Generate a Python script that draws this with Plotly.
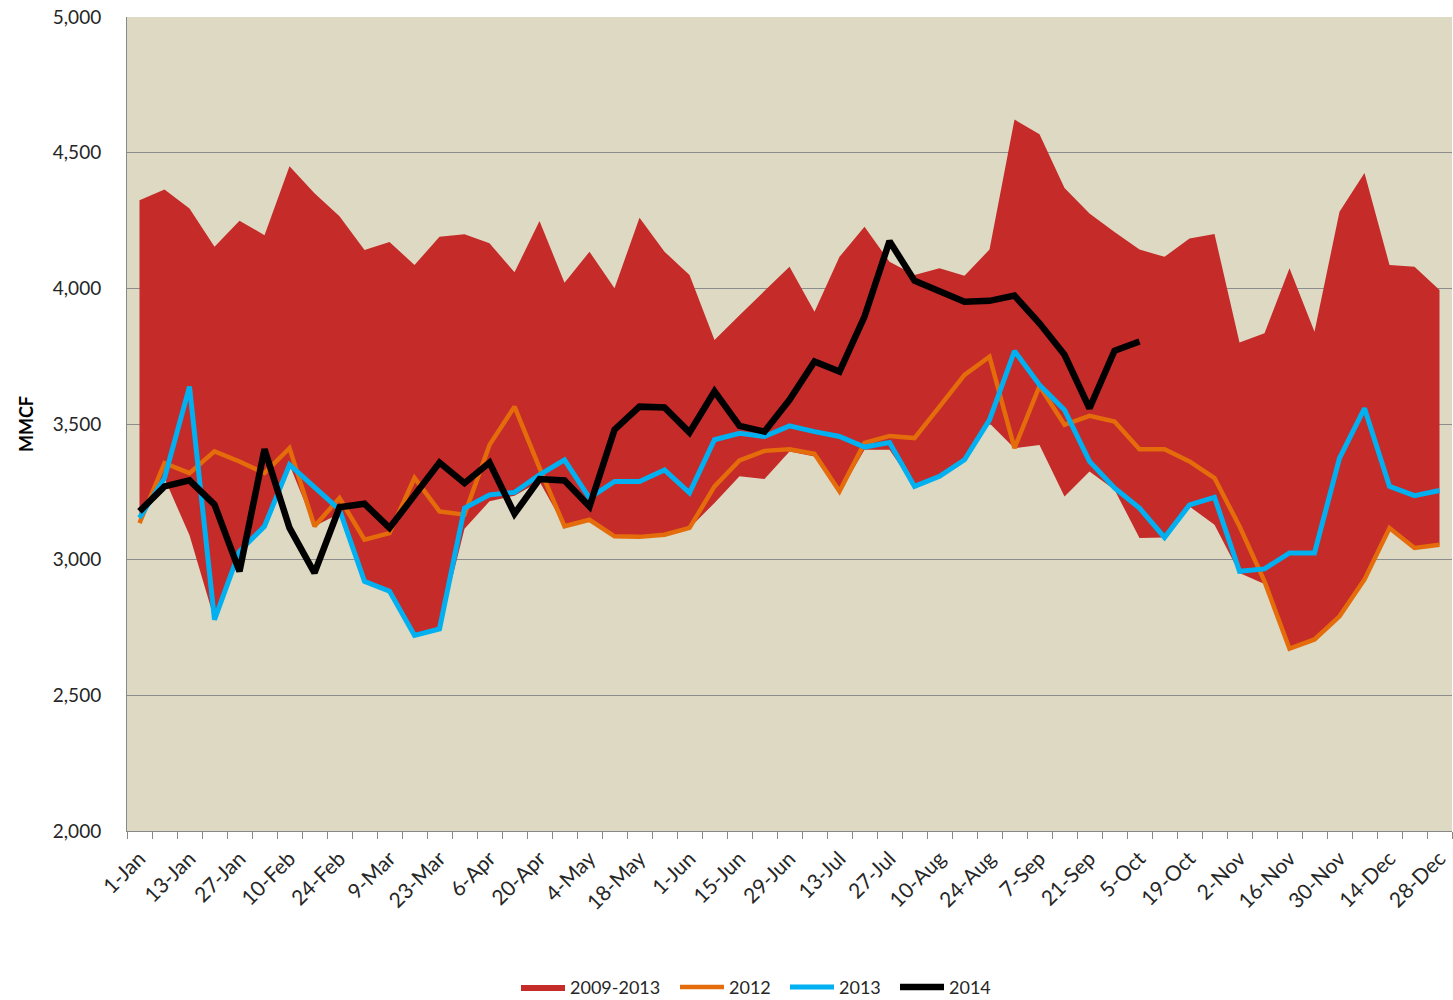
import plotly.graph_objects as go

# Weekly categories
weeks = ["1-Jan", "6-Jan", "13-Jan", "20-Jan", "27-Jan", "3-Feb", "10-Feb", "17-Feb", "24-Feb",
         "2-Mar", "9-Mar", "16-Mar", "23-Mar", "30-Mar", "6-Apr", "13-Apr", "20-Apr", "27-Apr",
         "4-May", "11-May", "18-May", "25-May", "1-Jun", "8-Jun", "15-Jun", "22-Jun", "29-Jun",
         "6-Jul", "13-Jul", "20-Jul", "27-Jul", "3-Aug", "10-Aug", "17-Aug", "24-Aug", "31-Aug",
         "7-Sep", "14-Sep", "21-Sep", "28-Sep", "5-Oct", "12-Oct", "19-Oct", "26-Oct",
         "2-Nov", "9-Nov", "16-Nov", "23-Nov", "30-Nov", "7-Dec", "14-Dec", "21-Dec", "28-Dec"]

# Tick labels: every other week
tick_labels = [w if i % 2 == 0 else "" for i, w in enumerate(weeks)]

# 2009-2013 range (max / min)
range_max = [4325, 4364, 4294, 4153, 4249, 4196, 4450, 4350, 4266, 4141,
             4171, 4086, 4190, 4199, 4166, 4059, 4248, 4021, 4135, 4000,
             4260, 4135, 4049, 3810, 3901, 3990, 4080, 3914, 4116, 4227,
             4098, 4049, 4074, 4046, 4143, 4622, 4568, 4370, 4276, 4208,
             4143, 4116, 4184, 4200, 3800, 3834, 4074, 3840, 4282, 4425,
             4086, 4080, 3994]
range_min = [3135, 3300, 3090, 2779, 3031, 3123, 3350, 3123, 3170, 2920,
             2884, 2721, 2745, 3114, 3215, 3236, 3288, 3123, 3147, 3086,
             3082, 3092, 3117, 3209, 3307, 3297, 3399, 3380, 3246, 3405,
             3405, 3270, 3307, 3362, 3503, 3411, 3423, 3233, 3325, 3258,
             3080, 3082, 3196, 3129, 2951, 2910, 2672, 2706, 2791, 2927,
             3117, 3043, 3055]

s2012 = [3135, 3356, 3319, 3399, 3362, 3319, 3411, 3123, 3227, 3074,
         3098, 3301, 3178, 3166, 3423, 3564, 3338, 3123, 3147, 3086,
         3084, 3092, 3117, 3270, 3366, 3401, 3407, 3390, 3252, 3430,
         3456, 3448, 3564, 3681, 3748, 3411, 3640, 3497, 3530, 3509,
         3407, 3407, 3362, 3301, 3123, 2920, 2672, 2706, 2791, 2927,
         3117, 3043, 3055]

s2013 = [3154, 3301, 3638, 2779, 3031, 3123, 3350, 3268, 3184, 2920,
         2884, 2721, 2745, 3190, 3239, 3248, 3313, 3368, 3227, 3288,
         3288, 3331, 3246, 3442, 3466, 3454, 3493, 3472, 3454, 3415,
         3432, 3270, 3307, 3368, 3515, 3769, 3644, 3552, 3362, 3264,
         3190, 3082, 3202, 3230, 2957, 2966, 3025, 3025, 3374, 3558,
         3270, 3236, 3255]

s2014 = [3178, 3270, 3292, 3203, 2957, 3407, 3117, 2951, 3193, 3206,
         3117, 3233, 3358, 3282, 3358, 3169, 3297, 3292, 3196, 3479,
         3564, 3561, 3469, 3620, 3493, 3472, 3589, 3730, 3693, 3896,
         4174, 4028, 3988, 3951, 3954, 3973, 3871, 3755, 3558, 3770,
         3804]

FONT = "Lato, 'Open Sans', sans-serif"

fig = go.Figure()
fig.add_trace(go.Scatter(
    x=weeks + weeks[::-1], y=range_max + range_min[::-1],
    fill="toself", fillcolor="#C42B29", line=dict(width=0, color="#C42B29"),
    mode="lines", name="2009-2013", hoverinfo="skip", legendwidth=100))
fig.add_trace(go.Scatter(x=weeks, y=s2012, mode="lines", name="2012",
                         line=dict(color="#E46C0A", width=4.5), legendwidth=51))
fig.add_trace(go.Scatter(x=weeks, y=s2013, mode="lines", name="2013",
                         line=dict(color="#00B0F0", width=5), legendwidth=51))
fig.add_trace(go.Scatter(x=weeks[:len(s2014)], y=s2014, mode="lines", name="2014",
                         line=dict(color="#000000", width=6.5), legendwidth=42))

fig.update_layout(
    width=1453, height=1000,
    margin=dict(l=127, r=1, t=17, b=169, autoexpand=False),
    paper_bgcolor="white", plot_bgcolor="#DDD9C3",
    font=dict(family=FONT, size=19, color="#262626"),
    showlegend=True,
    legend=dict(orientation="h", x=(526 - 127 - 10) / 1325, xanchor="left",
                y=-0.192, yanchor="middle",
                font=dict(size=18, color="#262626"), traceorder="normal",
                itemwidth=44, bgcolor="rgba(0,0,0,0)"),
    xaxis=dict(type="category", categoryorder="array", categoryarray=weeks,
               tickmode="array", tickvals=weeks, ticktext=tick_labels,
               tickson="boundaries", ticks="outside", ticklen=7, tickcolor="#888888",
               tickangle=-45, showgrid=False, showline=True, linecolor="#888888",
               linewidth=1, range=[-0.5, 52.5], tickfont=dict(size=21),
               ticklabelstandoff=6, automargin=False),
    yaxis=dict(range=[2000, 5000], dtick=500, tickformat=",", showgrid=True,
               gridcolor="#8C8C8C", gridwidth=1, showline=True, linecolor="#888888",
               linewidth=1, zeroline=False, ticks="", ticklabelstandoff=21,
               tickfont=dict(size=19), automargin=False,
               title=dict(text="<b>MMCF</b>", font=dict(size=18, color="#000000"), standoff=14)),
)

fig.write_html("out.html", config={"displayModeBar": False},
               post_script="document.body.style.margin='0';document.body.style.overflow='hidden';")
